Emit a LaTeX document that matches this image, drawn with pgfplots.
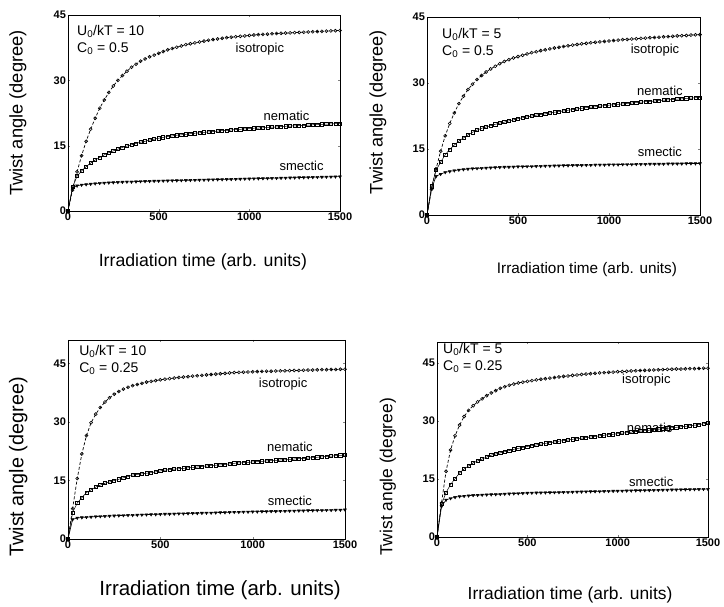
\documentclass[border=0pt]{standalone}
\usepackage{fontspec}
\setmainfont{Liberation Sans}
\usepackage{pgfplots}
\usepackage{pgfplotstable}
\pgfplotsset{compat=1.18}

% t, isotropic, nematic, smectic
\pgfplotstableread{
t iso nem sme
0 0 0 0
25 4.8 5.5 5.3
50 9.0 8.0 5.8
75 12.7 9.2 6.0
100 16.0 10.2 6.1
125 18.8 11.0 6.2
150 21.3 11.7 6.3
175 23.6 12.3 6.4
200 25.5 12.9 6.45
225 27.2 13.4 6.5
250 28.7 13.8 6.55
275 30.0 14.2 6.6
300 31.1 14.6 6.65
325 32.1 14.9 6.7
350 33.0 15.2 6.7
375 33.7 15.5 6.75
400 34.4 15.8 6.8
425 34.9 16.0 6.82
450 35.4 16.3 6.85
475 35.8 16.5 6.88
500 36.2 16.7 6.9
525 36.6 16.9 6.93
550 37.0 17.1 6.95
575 37.3 17.25 6.98
600 37.6 17.4 7.0
625 37.9 17.5 7.03
650 38.2 17.6 7.05
675 38.4 17.75 7.08
700 38.6 17.85 7.1
725 38.8 17.95 7.13
750 39.0 18.05 7.15
775 39.2 18.15 7.18
800 39.35 18.25 7.2
825 39.5 18.35 7.23
850 39.65 18.45 7.25
875 39.8 18.5 7.28
900 39.9 18.6 7.3
925 40.0 18.7 7.33
950 40.1 18.75 7.35
975 40.2 18.85 7.38
1000 40.3 18.9 7.4
1025 40.4 19.0 7.43
1050 40.5 19.05 7.45
1075 40.55 19.1 7.48
1100 40.6 19.2 7.5
1125 40.7 19.25 7.53
1150 40.75 19.3 7.55
1175 40.8 19.4 7.58
1200 40.85 19.45 7.6
1225 40.9 19.5 7.63
1250 40.95 19.55 7.65
1275 41.0 19.6 7.68
1300 41.05 19.65 7.7
1325 41.1 19.7 7.73
1350 41.15 19.8 7.75
1375 41.2 19.85 7.78
1400 41.25 19.9 7.8
1425 41.3 19.95 7.83
1450 41.35 20.0 7.85
1475 41.4 20.05 7.88
1500 41.45 20.1 7.9
}\tabA

\pgfplotstableread{
t iso nem sme
0 0 0 0
25 5.8 6.5 6.0
50 10.5 10.2 8.8
75 14.5 12.0 9.3
100 18.0 13.7 9.7
125 20.8 14.9 9.9
150 23.2 15.9 10.1
175 25.3 16.8 10.25
200 27.0 17.5 10.35
225 28.5 18.2 10.45
250 29.7 18.8 10.55
275 30.8 19.3 10.6
300 31.7 19.7 10.65
325 32.5 20.0 10.7
350 33.2 20.3 10.75
375 33.8 20.6 10.8
400 34.4 20.9 10.85
425 34.9 21.1 10.9
450 35.3 21.4 10.9
475 35.7 21.6 10.95
500 36.0 21.9 11.0
525 36.3 22.1 11.0
550 36.6 22.3 11.05
575 36.9 22.5 11.05
600 37.1 22.7 11.1
625 37.35 22.85 11.1
650 37.55 23.0 11.15
675 37.75 23.2 11.15
700 37.95 23.35 11.2
725 38.1 23.5 11.2
750 38.3 23.65 11.25
775 38.45 23.8 11.25
800 38.6 23.95 11.3
825 38.75 24.1 11.3
850 38.9 24.25 11.3
875 39.0 24.4 11.35
900 39.15 24.5 11.35
925 39.25 24.6 11.4
950 39.35 24.75 11.4
975 39.45 24.85 11.4
1000 39.55 24.95 11.45
1025 39.65 25.05 11.45
1050 39.75 25.15 11.45
1075 39.85 25.25 11.5
1100 39.9 25.35 11.5
1125 40.0 25.45 11.5
1150 40.05 25.55 11.55
1175 40.15 25.65 11.55
1200 40.2 25.75 11.55
1225 40.3 25.8 11.6
1250 40.35 25.9 11.6
1275 40.4 26.0 11.6
1300 40.5 26.1 11.6
1325 40.55 26.15 11.65
1350 40.6 26.25 11.65
1375 40.7 26.35 11.65
1400 40.75 26.4 11.65
1425 40.8 26.5 11.7
1450 40.9 26.55 11.7
1475 40.95 26.65 11.7
1500 41.0 26.7 11.7
}\tabB

\pgfplotstableread{
t iso nem sme
0 0 0 0
25 7.8 6.8 5.0
50 15.5 9.2 5.4
75 21.8 10.6 5.5
100 26.5 11.9 5.6
125 29.8 12.6 5.65
150 32.0 13.3 5.75
175 33.7 13.8 5.8
200 35.1 14.3 5.85
225 36.2 14.6 5.9
250 37.1 15.0 5.95
275 37.8 15.3 6.0
300 38.4 15.7 6.05
325 38.9 16.0 6.1
350 39.3 16.4 6.1
375 39.6 16.55 6.15
400 39.9 16.7 6.2
425 40.2 16.85 6.25
450 40.4 17.0 6.3
475 40.6 17.2 6.3
500 40.8 17.45 6.35
525 40.95 17.65 6.4
550 41.1 17.8 6.4
575 41.25 17.9 6.45
600 41.4 18.0 6.5
625 41.5 18.1 6.5
650 41.6 18.25 6.55
675 41.75 18.35 6.6
700 41.85 18.45 6.6
725 41.95 18.6 6.65
750 42.05 18.7 6.7
775 42.15 18.8 6.7
800 42.25 18.9 6.75
825 42.35 19.0 6.8
850 42.45 19.1 6.8
875 42.55 19.25 6.85
900 42.65 19.4 6.9
925 42.7 19.5 6.9
950 42.75 19.55 6.95
975 42.8 19.65 6.95
1000 42.85 19.75 7.0
1025 42.9 19.85 7.0
1050 42.95 19.9 7.05
1075 43.0 20.0 7.05
1100 43.0 20.1 7.1
1125 43.05 20.15 7.1
1150 43.1 20.25 7.15
1175 43.1 20.3 7.15
1200 43.15 20.4 7.2
1225 43.2 20.5 7.2
1250 43.2 20.6 7.25
1275 43.25 20.65 7.25
1300 43.3 20.75 7.3
1325 43.3 20.85 7.3
1350 43.35 20.95 7.35
1375 43.4 21.05 7.35
1400 43.4 21.15 7.4
1425 43.45 21.25 7.4
1450 43.45 21.35 7.45
1475 43.5 21.45 7.45
1500 43.5 21.5 7.5
}\tabC

\pgfplotstableread{
t iso nem sme
0 0 0 0
25 8.8 8.5 7.9
50 17.0 11.5 9.6
75 22.5 13.6 10.0
100 26.2 15.1 10.3
125 29.0 16.6 10.5
150 31.2 17.6 10.6
175 32.8 18.4 10.7
200 34.0 19.2 10.8
225 35.0 19.7 10.85
250 35.8 20.2 10.9
275 36.6 20.7 10.95
300 37.3 21.2 11.0
325 37.9 21.5 11.05
350 38.5 21.8 11.1
375 38.9 22.1 11.15
400 39.3 22.4 11.2
425 39.6 22.7 11.25
450 39.9 22.95 11.3
475 40.1 23.2 11.35
500 40.3 23.45 11.4
525 40.5 23.65 11.42
550 40.7 23.85 11.45
575 40.85 24.05 11.47
600 41.0 24.25 11.5
625 41.15 24.45 11.52
650 41.3 24.6 11.55
675 41.45 24.8 11.57
700 41.6 24.95 11.6
725 41.7 25.1 11.62
750 41.85 25.3 11.65
775 41.95 25.45 11.7
800 42.1 25.6 11.72
825 42.2 25.75 11.75
850 42.3 25.9 11.78
875 42.4 26.05 11.8
900 42.5 26.2 11.82
925 42.55 26.35 11.85
950 42.65 26.5 11.88
975 42.7 26.6 11.9
1000 42.8 26.75 11.93
1025 42.85 26.9 11.95
1050 42.9 27.0 11.98
1075 43.0 27.15 12.0
1100 43.05 27.3 12.03
1125 43.1 27.4 12.05
1150 43.15 27.55 12.08
1175 43.2 27.65 12.1
1200 43.25 27.8 12.13
1225 43.3 27.9 12.15
1250 43.35 28.05 12.18
1275 43.4 28.15 12.2
1300 43.45 28.3 12.23
1325 43.5 28.4 12.25
1350 43.5 28.55 12.28
1375 43.55 28.65 12.3
1400 43.6 28.8 12.32
1425 43.6 28.95 12.35
1450 43.65 29.1 12.37
1475 43.7 29.3 12.4
1500 43.7 29.5 12.4
}\tabD

\pgfplotsset{
  twist/.style={
    scale only axis, anchor=south west,
    xmin=0, xmax=1500, ymin=0,
    xtick={0,500,1000,1500}, ytick={0,15,30,45},
    tick align=inside, major tick length=2pt,
    /pgf/number format/assume math mode=true,
    /pgf/number format/1000 sep={},
    tick label style={font=\fontsize{11}{13}\selectfont\bfseries},
    xticklabel style={yshift=1.5pt},
    yticklabel style={xshift=1.5pt},
    xlabel={Irradiation time (arb. units)},
    ylabel={Twist angle (degree)},
    axis line style={line width=0.9pt},
    clip=false,
  },
  iso/.style={black, line width=0.7pt, dash pattern=on 3pt off 2pt,
    mark=o, mark size=1.5pt, mark options={solid, line width=0.6pt}},
  nem/.style={black, line width=0.5pt,
    mark=square, mark size=1.6pt, mark options={solid, line width=0.6pt}},
  sme/.style={black, line width=0.6pt,
    mark=triangle*, mark size=1.7pt, mark options={solid, rotate=180, line width=0.4pt}},
}
\tikzset{
  note/.style={font=\fontsize{14}{17}\selectfont, anchor=north west, align=left, inner sep=0pt},
  cur/.style={font=\fontsize{13}{15}\selectfont, inner sep=0pt},
}

\begin{document}
\begin{tikzpicture}
\path (0,0) rectangle (724pt,607pt);

% top left
\begin{axis}[twist, at={(68pt,396pt)}, width=272pt, height=196pt, ymax=45,
  xlabel style={at={(axis description cs:0.496,-0.26)}, anchor=center, font=\fontsize{17.7}{20}\selectfont},
  ylabel style={at={(axis description cs:-0.184,0.5)}, anchor=center, font=\fontsize{18.3}{20}\selectfont}]
\addplot[iso] table[x=t, y=iso] {\tabA};
\addplot[nem] table[x=t, y=nem] {\tabA};
\addplot[sme] table[x=t, y=sme] {\tabA};
\node[note] at (rel axis cs:0.033,0.95) {U\textsubscript{0}/kT = 10\\C\textsubscript{0} = 0.5};
\node[cur] at (axis cs:1058,37.1) {isotropic};
\node[cur] at (axis cs:1205,21.8) {nematic};
\node[cur] at (axis cs:1288,10.3) {smectic};
\end{axis}

% top right
\begin{axis}[twist, at={(427pt,392pt)}, width=273pt, height=198pt, ymax=45,
  xlabel style={at={(axis description cs:0.586,-0.278)}, anchor=center, font=\fontsize{15.3}{18}\selectfont},
  ylabel style={at={(axis description cs:-0.18,0.52)}, anchor=center, font=\fontsize{18.1}{20}\selectfont}]
\addplot[iso] table[x=t, y=iso] {\tabB};
\addplot[nem] table[x=t, y=nem] {\tabB};
\addplot[sme] table[x=t, y=sme] {\tabB};
\node[note] at (rel axis cs:0.055,0.945) {U\textsubscript{0}/kT = 5\\C\textsubscript{0} = 0.5};
\node[cur] at (axis cs:1253,37.4) {isotropic};
\node[cur] at (axis cs:1280,28.2) {nematic};
\node[cur] at (axis cs:1280,14.4) {smectic};
\end{axis}

% bottom left
\begin{axis}[twist, at={(68pt,68pt)}, width=277pt, height=199pt, ymax=51,
  xlabel style={at={(axis description cs:0.549,-0.256)}, anchor=center, font=\fontsize{20.5}{23}\selectfont},
  ylabel style={at={(axis description cs:-0.18,0.362)}, anchor=center, font=\fontsize{19.8}{22}\selectfont}]
\addplot[iso] table[x=t, y=iso] {\tabC};
\addplot[nem] table[x=t, y=nem] {\tabC};
\addplot[sme] table[x=t, y=sme] {\tabC};
\node[note] at (rel axis cs:0.04,0.975) {U\textsubscript{0}/kT = 10\\C\textsubscript{0} = 0.25};
\node[cur] at (axis cs:1165,39.7) {isotropic};
\node[cur] at (axis cs:1202,23.6) {nematic};
\node[cur] at (axis cs:1202,9.8) {smectic};
\end{axis}

% bottom right
\begin{axis}[twist, at={(437pt,70pt)}, width=271pt, height=195pt, ymax=50.5,
  xlabel style={at={(axis description cs:0.491,-0.297)}, anchor=center, font=\fontsize{17.4}{20}\selectfont},
  ylabel style={at={(axis description cs:-0.181,0.308)}, anchor=center, font=\fontsize{17.4}{20}\selectfont}]
\addplot[iso] table[x=t, y=iso] {\tabD};
\addplot[nem] table[x=t, y=nem] {\tabD};
\addplot[sme] table[x=t, y=sme] {\tabD};
\node[note] at (rel axis cs:0.022,0.995) {U\textsubscript{0}/kT = 5\\C\textsubscript{0} = 0.25};
\node[cur] at (axis cs:1159,40.5) {isotropic};
\node[cur] at (axis cs:1177,28.2) {nematic};
\node[cur] at (axis cs:1186,14.4) {smectic};
\end{axis}
\end{tikzpicture}
\end{document}
